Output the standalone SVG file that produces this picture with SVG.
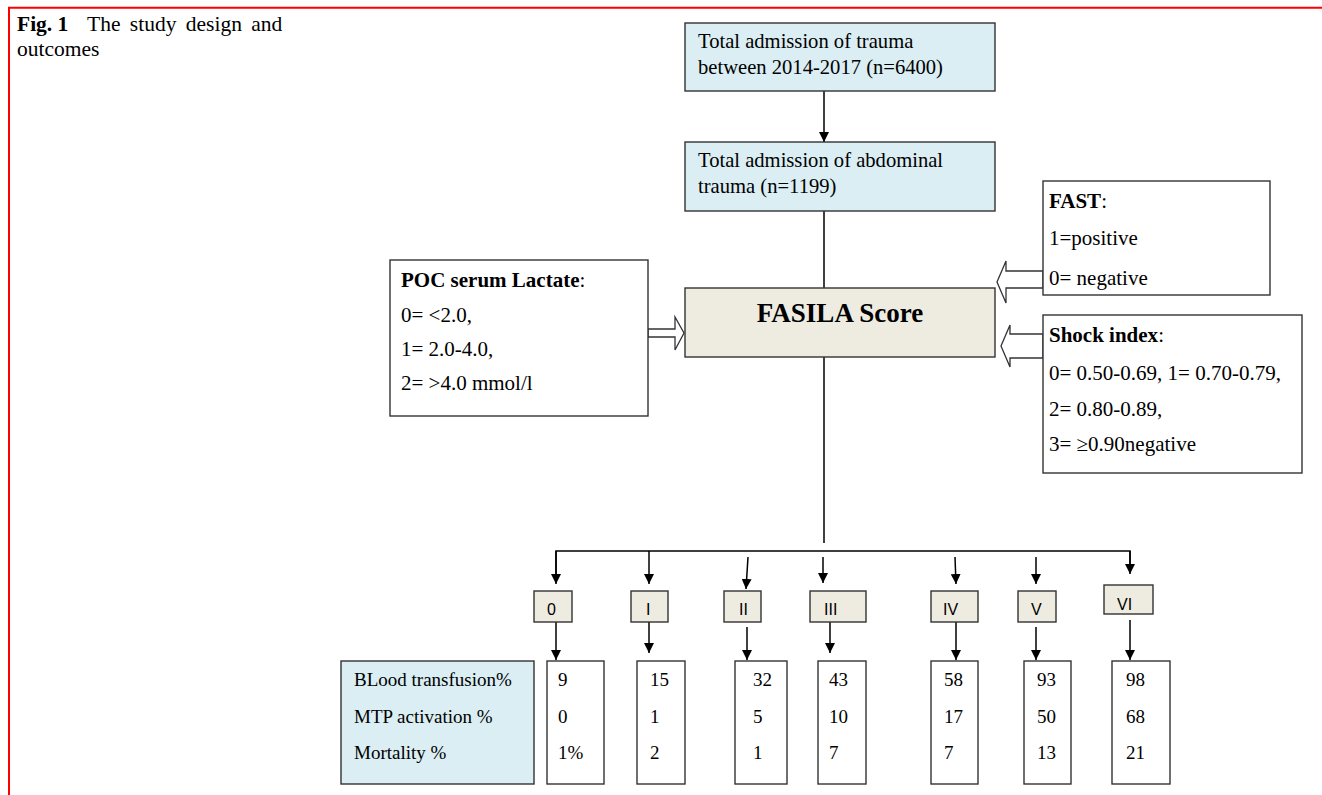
<svg xmlns="http://www.w3.org/2000/svg" width="1322" height="795" viewBox="0 0 1322 795">
<style>
.t{font-family:"Liberation Serif","Times New Roman",serif;fill:#000}
.s{font-family:"Liberation Sans",Arial,sans-serif;fill:#000;font-size:16px}
.b{font-weight:bold}
.blue{fill:#daeef3;stroke:#333;stroke-width:1.4}
.beige{fill:#eeece1;stroke:#333;stroke-width:1.4}
.white{fill:#fff;stroke:#333;stroke-width:1.4}
.ln{stroke:#000;stroke-width:1.5;fill:none}
.la{stroke:#000;stroke-width:1.5;fill:none;marker-end:url(#ah)}
.hol{fill:#fff;stroke:#333;stroke-width:1.3}
</style>
<defs>
<marker id="ah" markerUnits="userSpaceOnUse" markerWidth="10" markerHeight="10" refX="10" refY="5" orient="auto">
<path d="M0,0 L10,5 L0,10 z" fill="#000"/>
</marker>
</defs>
<rect width="1322" height="795" fill="#fff"/>
<g id="frame">
<path d="M9,795 V7.7 H1322" fill="none" stroke="#ff0000" stroke-width="2"/>
</g>
<g id="caption">
<text class="t" x="17" y="31" font-size="21.5"><tspan class="b">Fig. 1</tspan></text>
<text class="t" x="87" y="31" font-size="21.5" word-spacing="4">The study design and</text>
<text class="t" x="17" y="56" font-size="21.5">outcomes</text>
</g>
<g id="connectors">
<line class="la" x1="824" y1="91" x2="824" y2="142"/>
<line class="ln" x1="824" y1="211" x2="824" y2="288"/>
<line class="ln" x1="824" y1="357" x2="824" y2="543"/>
<path class="ln" d="M556,574 V551 H1130 V564"/>
<line class="la" x1="556" y1="551" x2="556" y2="584"/>
<line class="la" x1="649" y1="551" x2="649" y2="584"/>
<line class="la" x1="748" y1="557" x2="746" y2="589"/>
<line class="la" x1="823" y1="557" x2="823" y2="583"/>
<line class="la" x1="955" y1="557" x2="956" y2="584"/>
<line class="la" x1="1036" y1="557" x2="1036" y2="584"/>
<line class="la" x1="1130" y1="551" x2="1130" y2="574"/>
<line class="la" x1="556" y1="622" x2="556" y2="660"/>
<line class="la" x1="649" y1="622" x2="649" y2="653"/>
<line class="la" x1="747" y1="627" x2="747" y2="660"/>
<line class="la" x1="830" y1="622" x2="830" y2="653"/>
<line class="la" x1="956" y1="622" x2="956" y2="660"/>
<line class="la" x1="1036" y1="627" x2="1036" y2="660"/>
<line class="la" x1="1130" y1="620" x2="1130" y2="660"/>
<path class="hol" d="M648,329 H675 V317 L684,333 L675,350 V337 H648 Z"/>
<path class="hol" d="M1043,271 H1006 V261 L997,282 L1006,303 V288 H1043 Z"/>
<path class="hol" d="M1043,334 H1010 V325 L1001,346 L1010,367 V358 H1043 Z"/>
</g>
<g id="n-total">
<rect class="blue" x="685" y="23" width="310" height="68"/>
<text class="t" x="698" y="48" font-size="20.6">Total admission of trauma</text>
<text class="t" x="698" y="74" font-size="20.6">between 2014-2017 (n=6400)</text>
</g>
<g id="n-abdominal">
<rect class="blue" x="685" y="142" width="310" height="69"/>
<text class="t" x="698" y="167" font-size="20.6">Total admission of abdominal</text>
<text class="t" x="698" y="193" font-size="20.6">trauma (n=1199)</text>
</g>
<g id="n-fasila">
<rect class="beige" x="685" y="288" width="310" height="69"/>
<text class="t b" x="840" y="322" font-size="27" text-anchor="middle">FASILA Score</text>
</g>
<g id="n-lactate">
<rect class="white" x="390" y="260" width="258" height="156"/>
<text class="t" x="401" y="287" font-size="21"><tspan class="b">POC serum Lactate</tspan>:</text>
<text class="t" x="401" y="322" font-size="21">0= &lt;2.0,</text>
<text class="t" x="401" y="356" font-size="21">1= 2.0-4.0,</text>
<text class="t" x="401" y="390" font-size="21">2= &gt;4.0 mmol/l</text>
</g>
<g id="n-fast">
<rect class="white" x="1043" y="181" width="227" height="114"/>
<text class="t" x="1049" y="208" font-size="21"><tspan class="b">FAST</tspan>:</text>
<text class="t" x="1049" y="245" font-size="21">1=positive</text>
<text class="t" x="1049" y="285" font-size="21">0= negative</text>
</g>
<g id="n-shock">
<rect class="white" x="1043" y="315" width="259" height="158"/>
<text class="t" x="1049" y="342" font-size="21"><tspan class="b">Shock index</tspan>:</text>
<text class="t" x="1049" y="380" font-size="21">0= 0.50-0.69, 1= 0.70-0.79,</text>
<text class="t" x="1049" y="416" font-size="21">2= 0.80-0.89,</text>
<text class="t" x="1049" y="451" font-size="21">3= ≥0.90negative</text>
</g>
<g id="g-0"><rect class="beige" x="534" y="591" width="38" height="31"/><text class="s" x="547" y="615">0</text></g>
<g id="g-I"><rect class="beige" x="631" y="591" width="37" height="31"/><text class="s" x="646" y="615">I</text></g>
<g id="g-II"><rect class="beige" x="724" y="591" width="37" height="31"/><text class="s" x="739" y="615">II</text></g>
<g id="g-III"><rect class="beige" x="810" y="591" width="56" height="31"/><text class="s" x="824" y="615">III</text></g>
<g id="g-IV"><rect class="beige" x="931" y="591" width="47" height="31"/><text class="s" x="943" y="615">IV</text></g>
<g id="g-V"><rect class="beige" x="1018" y="591" width="38" height="31"/><text class="s" x="1031" y="615">V</text></g>
<g id="g-VI"><rect class="beige" x="1104" y="585" width="49" height="29"/><text class="s" x="1117" y="610">VI</text></g>
<g id="labels">
<rect class="blue" x="341" y="661" width="193" height="123"/>
<text class="t" x="354" y="686" font-size="19">BLood transfusion%</text>
<text class="t" x="354" y="723" font-size="19">MTP activation %</text>
<text class="t" x="354" y="759" font-size="19">Mortality %</text>
</g>
<g id="v-0"><rect class="white" x="547" y="661" width="57" height="123"/>
<text class="t" x="558" y="686" font-size="19">9</text><text class="t" x="558" y="723" font-size="19">0</text><text class="t" x="558" y="759" font-size="19">1%</text></g>
<g id="v-I"><rect class="white" x="637" y="661" width="48" height="123"/>
<text class="t" x="650" y="686" font-size="19">15</text><text class="t" x="650" y="723" font-size="19">1</text><text class="t" x="650" y="759" font-size="19">2</text></g>
<g id="v-II"><rect class="white" x="735" y="661" width="52" height="123"/>
<text class="t" x="753" y="686" font-size="19">32</text><text class="t" x="753" y="723" font-size="19">5</text><text class="t" x="753" y="759" font-size="19">1</text></g>
<g id="v-III"><rect class="white" x="818" y="661" width="48" height="123"/>
<text class="t" x="829" y="686" font-size="19">43</text><text class="t" x="829" y="723" font-size="19">10</text><text class="t" x="829" y="759" font-size="19">7</text></g>
<g id="v-IV"><rect class="white" x="931" y="661" width="47" height="123"/>
<text class="t" x="944" y="686" font-size="19">58</text><text class="t" x="944" y="723" font-size="19">17</text><text class="t" x="944" y="759" font-size="19">7</text></g>
<g id="v-V"><rect class="white" x="1024" y="661" width="47" height="123"/>
<text class="t" x="1037" y="686" font-size="19">93</text><text class="t" x="1037" y="723" font-size="19">50</text><text class="t" x="1037" y="759" font-size="19">13</text></g>
<g id="v-VI"><rect class="white" x="1112" y="661" width="58" height="123"/>
<text class="t" x="1126" y="686" font-size="19">98</text><text class="t" x="1126" y="723" font-size="19">68</text><text class="t" x="1126" y="759" font-size="19">21</text></g>
</svg>
